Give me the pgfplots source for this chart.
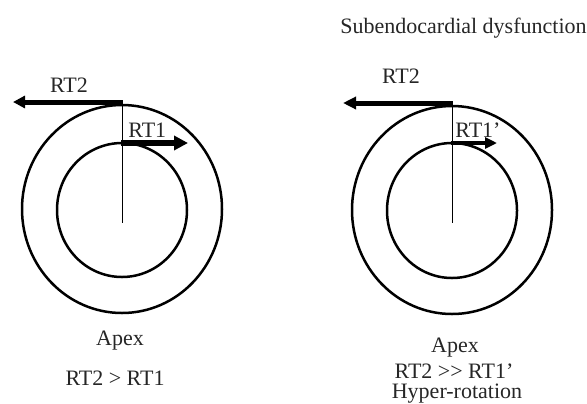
\documentclass[border=0pt]{standalone}
\usepackage{pgfplots}
\pgfplotsset{compat=1.18}
\usepackage{fontspec}
\setmainfont{Liberation Serif}
\usetikzlibrary{arrows.meta}
\tikzset{lbl/.style={font=\fontsize{11}{13}\selectfont, text=black!85, inner sep=0pt}}
\begin{document}
\begin{tikzpicture}
\begin{axis}[
  width=293.5pt, height=201.5pt, scale only axis,
  xmin=0, xmax=587, ymin=0, ymax=403,
  hide axis, clip=false,
]
% circles (left)
\draw[line width=1.25pt] (axis cs:122,194) ellipse [x radius=100, y radius=104];
\draw[line width=1.25pt] (axis cs:122,193) ellipse [x radius=65, y radius=67];
% circles (right)
\draw[line width=1.25pt] (axis cs:452,193) ellipse [x radius=100, y radius=104];
\draw[line width=1.25pt] (axis cs:452,192.5) ellipse [x radius=65, y radius=67.5];
% vertical lines
\addplot[black, line width=0.45pt] coordinates {(122,301) (122,180)};
\addplot[black, line width=0.45pt] coordinates {(452,300) (452,180)};
% arrows left
\addplot[black, line width=2.5pt, -{Triangle[length=6pt,width=6pt]}] coordinates {(123.25,301) (13,301)};
\addplot[black, line width=2.8pt, -{Triangle[length=7pt,width=7pt]}] coordinates {(121,260) (188,260)};
% arrows right
\addplot[black, line width=2.5pt, -{Triangle[length=6.5pt,width=6pt]}] coordinates {(453.25,300) (343,300)};
\addplot[black, line width=2.1pt, -{Triangle[length=6pt,width=5.5pt]}] coordinates {(451,260) (497,260)};
% labels
\node[lbl, anchor=base] at (axis cs:69,311) {RT2};
\node[lbl, anchor=base west] at (axis cs:128,266) {RT1};
\node[lbl, anchor=base] at (axis cs:401,320) {RT2};
\node[lbl, anchor=base west] at (axis cs:455,266) {RT1’};
\node[lbl, anchor=base] at (axis cs:463.5,370) {Subendocardial dysfunction};
\node[lbl, anchor=base] at (axis cs:120,58) {Apex};
\node[lbl, anchor=base] at (axis cs:115,18) {RT2 > RT1};
\node[lbl, anchor=base] at (axis cs:455,51) {Apex};
\node[lbl, anchor=base] at (axis cs:454,25) {RT2 {>}{>} RT1’};
\node[lbl, anchor=base] at (axis cs:457,4.5) {Hyper-rotation};
\end{axis}
\pgfresetboundingbox
\useasboundingbox (0,0) rectangle (293.5pt,201.5pt);
\end{tikzpicture}
\end{document}
